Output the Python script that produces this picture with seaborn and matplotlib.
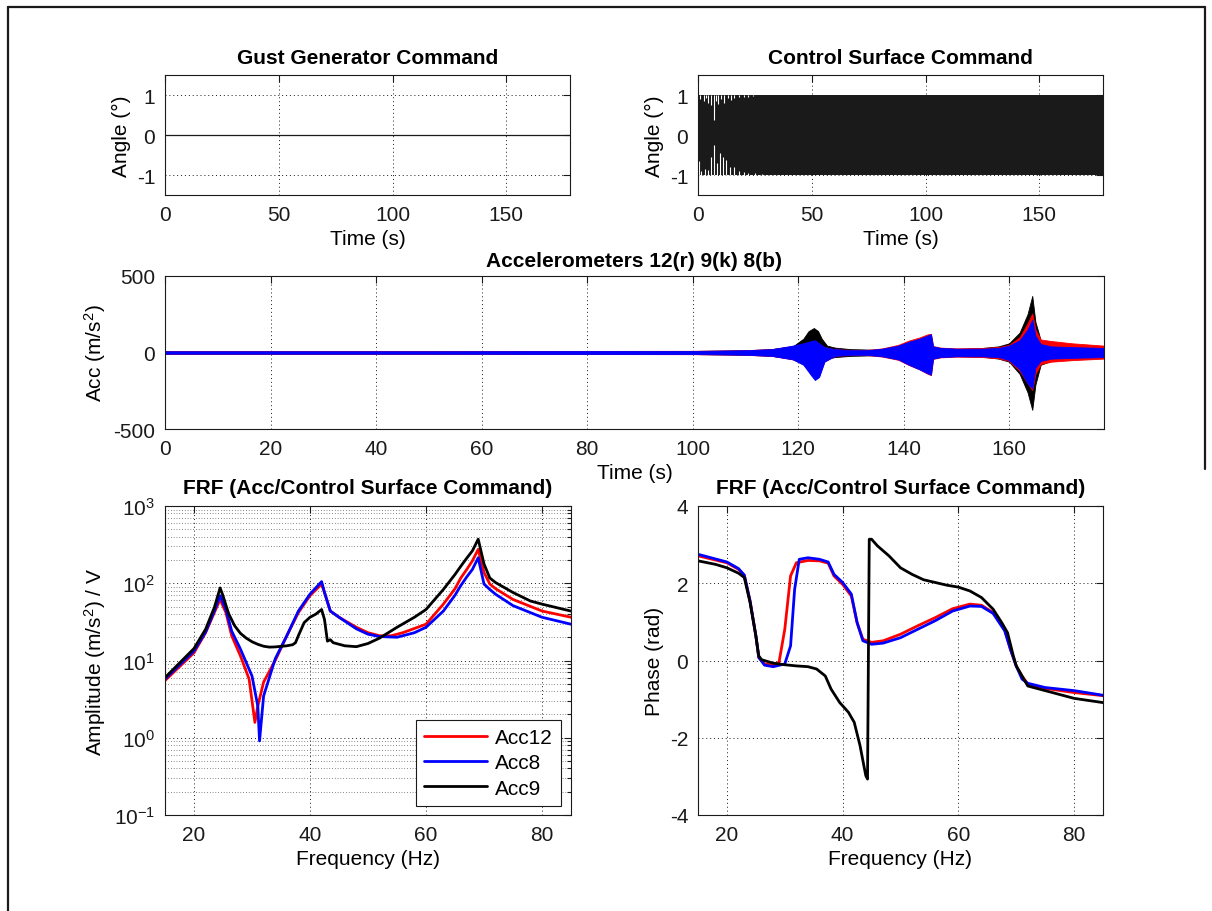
import numpy as np
import pandas as pd
import matplotlib
matplotlib.use("Agg")
import matplotlib.pyplot as plt
from matplotlib.lines import Line2D
from matplotlib.ticker import LogLocator, NullFormatter
import seaborn as sns

# ---------------- data ----------------
# Gust generator command (deg): stays at zero during the whole run
gust_t = [0.0, 178.0]
gust_cmd = [0.0, 0.0]

# Control surface command (deg): +/-1 deg excitation, envelope
cs_t = [0.0, 178.0]
cs_hi = [1.0, 1.0]
cs_lo = [-1.0, -1.0]
# early cycles whose peaks do not reach full amplitude
cs_short_t_top = [1.0, 2.5, 3.5, 4.5, 5.5, 6.9, 8.0, 9.0, 10.0, 11.5, 13.0, 14.5, 16.0, 18.0, 20.0, 22.0, 24.0]
cs_short_top = [0.90, 0.85, 0.92, 0.80, 0.75, 0.38, 0.85, 0.78, 0.90, 0.80, 0.92, 0.88, 0.93, 0.95, 0.95, 0.96, 0.97]
cs_short_t_bot = [0.5, 1.5, 3.0, 4.5, 5.5, 7.0, 8.5, 9.5, 11.0, 12.5, 14.0, 16.0, 18.0, 20.0, 22.0, 25.0, 28.0]
cs_short_bot = [-0.65, -0.90, -0.85, -0.88, -0.55, -0.25, -0.70, -0.45, -0.55, -0.62, -0.80, -0.80, -0.90, -0.93, -0.95, -0.96, -0.97]

# Accelerometer response envelopes (m/s^2)
acc9_t = [0, 50, 100, 110, 115, 119, 121, 122, 123, 123.8, 124.5, 125.5, 127, 130, 135, 140, 145, 147,
          150, 155, 158, 160, 162, 163.5, 164.4, 165, 166, 168, 172, 178]
acc9_hi = [8, 8, 10, 14, 22, 40, 90, 140, 160, 140, 90, 45, 32, 22, 18, 25, 35, 28,
           22, 30, 40, 60, 130, 250, 370, 200, 80, 50, 40, 30]
acc9_lo = [-8, -8, -10, -14, -22, -40, -60, -80, -100, -90, -60, -40, -30, -22, -18, -25, -35, -28,
           -22, -28, -40, -60, -140, -260, -375, -210, -80, -55, -45, -35]

acc_t = [0, 50, 100, 110, 115, 119, 121, 122.5, 123.2, 124, 125, 127, 130, 133, 136, 139, 141, 143,
         144.5, 145.2, 145.6, 147, 150, 155, 158, 160, 162, 163.5, 164.4, 165, 166, 168, 172, 178]
acc12_hi = [9, 9, 11, 15, 22, 42, 58, 70, 75, 58, 35, 22, 16, 16, 27, 50, 78, 98,
            118, 122, 42, 32, 27, 30, 35, 50, 100, 190, 255, 150, 85, 75, 60, 45]
acc12_lo = [-9, -9, -11, -15, -22, -45, -75, -140, -170, -150, -58, -22, -16, -16, -27, -48, -82, -110,
            -138, -148, -42, -32, -27, -30, -38, -55, -120, -200, -245, -140, -75, -60, -50, -40]
acc8_hi = [8, 8, 10, 15, 22, 45, 60, 75, 80, 60, 35, 22, 15, 15, 25, 45, 70, 90,
           110, 120, 40, 30, 25, 25, 30, 45, 80, 150, 215, 110, 55, 40, 35, 30]
acc8_lo = [-8, -8, -10, -15, -22, -45, -80, -150, -180, -160, -60, -22, -15, -15, -25, -45, -80, -110,
           -135, -145, -40, -30, -25, -25, -30, -50, -110, -200, -235, -100, -55, -40, -35, -30]

# FRF amplitude ((m/s^2)/V)
f12_amp = [15, 20, 22, 23.5, 24.5, 25.5, 26.5, 28, 29.5, 30.5, 31, 32, 34, 36, 38, 40, 42, 42.5, 43.5,
           45, 48, 50, 52, 54, 56, 60, 63, 65, 66, 67, 68, 69, 70, 71, 72, 75, 80, 85]
acc12_amp = [5.5, 12.6, 22.9, 41.7, 61.7, 41.7, 20.9, 11.5, 5.75, 1.58, 2.57, 5.25, 10.0, 20.9, 41.7,
             69.2, 97.7, 75.9, 43.7, 36.3, 26.9, 22.9, 20.9, 20.9, 22.9, 29.5, 53.7, 85, 117, 150,
             195, 275, 138, 97.7, 85, 61.7, 43.7, 36.3]
f8_amp = [15, 20, 22, 23.5, 24.5, 25.5, 26.5, 28, 30, 31, 31.3, 32, 34, 36, 38, 40, 42, 42.5, 43.5,
          45, 48, 50, 52, 55, 58, 60, 63, 65, 66, 67, 68, 69, 70, 71, 72, 75, 80, 85]
acc8_amp = [5.75, 13.3, 23.4, 43.7, 69.2, 45.7, 24.0, 14.1, 6.3, 2.57, 0.91, 3.47, 10.5, 20.9, 43.7,
            72.4, 105, 75.9, 43.7, 36.3, 25.7, 21.9, 20.4, 20.0, 22.9, 26.9, 43.7, 70, 93.3, 120,
            151, 214, 97.7, 83.2, 72, 51.3, 36.3, 29.5]
f9_amp = [15, 17, 20, 22, 23.5, 24.5, 25, 25.5, 26, 27, 28, 29, 30, 31, 32, 33, 34, 36, 37, 37.5, 38,
          39, 40, 41, 42, 42.5, 43, 43.5, 44, 46, 48, 50, 52, 55, 58, 60, 63, 65, 66, 67, 68, 69, 70,
          71, 72, 75, 78, 80, 85]
acc9_amp = [6.0, 8.5, 14.3, 25.4, 48.4, 87, 69, 52, 40, 28.2, 22.5, 19.5, 17.5, 16.2, 15.3, 14.9, 15.0,
            15.5, 16.0, 17.0, 21.0, 31.0, 36.3, 39.8, 45.7, 33.9, 17.8, 18.6, 17.0, 15.5, 15.1, 16.6,
            19.5, 26.9, 36.3, 45.7, 83.2, 130, 166, 210, 263, 372, 178, 117, 102, 75.9, 58.9, 53.7,
            43.6]

# FRF phase (rad)
f12_ph = [15, 20, 22, 23, 24, 25, 25.5, 26.5, 28, 29, 30, 31, 32, 34, 36, 37.5, 38.5, 40, 41.5, 42.5,
          43.5, 45, 47, 50, 53, 56, 59, 62, 64, 66, 68, 69, 70, 71, 72, 75, 80, 85]
acc12_ph = [2.71, 2.53, 2.36, 2.21, 1.54, 0.64, 0.08, -0.09, -0.12, -0.05, 0.81, 2.19, 2.53, 2.59, 2.58,
            2.52, 2.19, 1.97, 1.67, 0.98, 0.55, 0.47, 0.51, 0.68, 0.90, 1.11, 1.34, 1.46, 1.43, 1.24,
            0.81, 0.29, -0.14, -0.40, -0.61, -0.72, -0.83, -0.91]
f8_ph = [15, 20, 22, 23, 24, 25, 25.5, 26.5, 28, 30, 31, 31.7, 32.5, 34, 36, 37.5, 38.5, 40, 41.5, 42.5,
         43.5, 45, 47, 50, 53, 56, 59, 62, 64, 66, 68, 69, 70, 71, 72, 75, 80, 85]
acc8_ph = [2.75, 2.55, 2.38, 2.21, 1.54, 0.64, 0.08, -0.12, -0.16, -0.09, 0.38, 1.84, 2.62, 2.66, 2.62,
           2.55, 2.23, 2.02, 1.72, 0.98, 0.51, 0.42, 0.45, 0.59, 0.81, 1.03, 1.28, 1.41, 1.40, 1.22,
           0.77, 0.29, -0.14, -0.48, -0.59, -0.70, -0.78, -0.90]
f9_ph = [15, 18, 20, 22, 23, 24, 25, 25.5, 26, 28, 30, 32, 34, 35.5, 37, 38, 39.5, 41, 42, 43, 44, 44.3,
         44.6, 45, 46, 48, 50, 52, 54, 56, 58, 60, 62, 64, 66, 67.5, 68.5, 69.5, 70, 71, 72, 75, 80, 85]
acc9_ph = [2.58, 2.49, 2.40, 2.26, 2.15, 1.50, 0.64, 0.12, 0.02, -0.07, -0.11, -0.14, -0.16, -0.22,
           -0.40, -0.74, -1.09, -1.34, -1.60, -2.20, -2.98, -3.07, 3.14, 3.14, 2.97, 2.71, 2.40, 2.23,
           2.09, 2.02, 1.95, 1.90, 1.80, 1.63, 1.33, 0.98, 0.72, 0.12, -0.14, -0.40, -0.66, -0.78,
           -0.98, -1.09]

RED, BLUE, BLACK = "#ff0000", "#0000ff", "#000000"

# ---------------- style ----------------
sns.set_theme(style="white")
plt.rcParams["font.family"] = ["Liberation Sans", "DejaVu Sans"]
plt.rcParams["mathtext.fontset"] = "custom"
plt.rcParams["mathtext.rm"] = "Liberation Sans"
plt.rcParams["mathtext.it"] = "Liberation Sans:italic"
plt.rcParams["mathtext.bf"] = "Liberation Sans:bold"
plt.rcParams["axes.unicode_minus"] = False
for key in ("text.color", "axes.labelcolor", "xtick.color", "ytick.color", "axes.edgecolor"):
    plt.rcParams[key] = "black"

FS = 15
W, H = 1212, 912
GRID_LS = (0, (1, 3))


def box(l, t, r, b):
    return [l / W, 1 - b / H, (r - l) / W, (b - t) / H]


def matlab_axes(ax):
    ax.set_facecolor("white")
    ax.set_axisbelow(True)
    for s in ax.spines.values():
        s.set_visible(True)
        s.set_color("k")
        s.set_linewidth(0.8)
    ax.tick_params(which="both", direction="in", top=True, right=True,
                   length=5, width=0.8, colors="k", labelcolor="k", labelsize=FS, pad=7)
    ax.tick_params(which="minor", length=3)
    ax.grid(True, which="major", linestyle=GRID_LS, color="k", linewidth=0.7)


fig = plt.figure(figsize=(W / 100, H / 100), dpi=100)
fig.patch.set_facecolor("white")

# --- Gust generator command ---
ax1 = fig.add_axes(box(165, 76, 570, 196))
matlab_axes(ax1)
sns.lineplot(x=gust_t, y=gust_cmd, ax=ax1, color="k", lw=0.9)
ax1.set_xlim(0, 178)
ax1.set_ylim(-1.5, 1.5)
ax1.set_xticks([0, 50, 100, 150])
ax1.set_yticks([-1, 0, 1])
ax1.set_title("Gust Generator Command", fontsize=FS, fontweight="bold", pad=9)
ax1.set_xlabel("Time (s)", fontsize=FS)
ax1.set_ylabel("Angle (°)", fontsize=FS)

# --- Control surface command ---
ax2 = fig.add_axes(box(698, 76, 1103, 196))
matlab_axes(ax2)
ax2.fill_between(cs_t, cs_lo, cs_hi, color="k", lw=0)
ax2.vlines(cs_short_t_top, cs_short_top, 1.0, color="white", lw=0.8)
ax2.vlines(cs_short_t_bot, -1.0, cs_short_bot, color="white", lw=0.8)
ax2.set_xlim(0, 178)
ax2.set_ylim(-1.5, 1.5)
ax2.set_xticks([0, 50, 100, 150])
ax2.set_yticks([-1, 0, 1])
ax2.set_title("Control Surface Command", fontsize=FS, fontweight="bold", pad=9)
ax2.set_xlabel("Time (s)", fontsize=FS)
ax2.set_ylabel("Angle (°)", fontsize=FS)

# --- Accelerometer time histories ---
ax3 = fig.add_axes(box(165, 277, 1104, 430))
matlab_axes(ax3)
ax3.fill_between(acc9_t, acc9_lo, acc9_hi, color=BLACK, lw=0.6)
ax3.fill_between(acc_t, acc12_lo, acc12_hi, color=RED, lw=0.6)
ax3.fill_between(acc_t, acc8_lo, acc8_hi, color=BLUE, lw=0.6)
ax3.set_xlim(0, 178)
ax3.set_ylim(-500, 500)
ax3.set_xticks(np.arange(0, 161, 20))
ax3.set_yticks([-500, 0, 500])
ax3.set_title("Accelerometers 12(r) 9(k) 8(b)", fontsize=FS, fontweight="bold", pad=7)
ax3.set_xlabel("Time (s)", fontsize=FS)
ax3.set_ylabel("Acc (m/s$^2$)", fontsize=FS)

# --- FRF amplitude ---
ax4 = fig.add_axes(box(165, 507, 571, 816))
matlab_axes(ax4)
ax4.set_yscale("log")
sns.lineplot(x=f12_amp, y=acc12_amp, ax=ax4, color=RED, lw=2.0, label="Acc12")
sns.lineplot(x=f8_amp, y=acc8_amp, ax=ax4, color=BLUE, lw=2.0, label="Acc8")
sns.lineplot(x=f9_amp, y=acc9_amp, ax=ax4, color=BLACK, lw=2.0, label="Acc9")
ax4.set_xlim(15, 85)
ax4.set_ylim(0.1, 1000)
ax4.set_xticks([20, 40, 60, 80])
ax4.yaxis.set_major_locator(LogLocator(base=10, numticks=10))
ax4.yaxis.set_minor_locator(LogLocator(base=10, subs=np.arange(2, 10), numticks=50))
ax4.yaxis.set_minor_formatter(NullFormatter())
ax4.grid(True, which="minor", axis="y", linestyle=GRID_LS, color="k", linewidth=0.5)
ax4.set_title("FRF (Acc/Control Surface Command)", fontsize=FS, fontweight="bold", pad=9)
ax4.set_xlabel("Frequency (Hz)", fontsize=FS)
ax4.set_ylabel("Amplitude (m/s$^2$) / V", fontsize=FS)
leg = ax4.legend(loc="lower right", bbox_to_anchor=((561 - 165) / 406, (816 - 807) / 309),
                 borderaxespad=0, fontsize=FS, frameon=True, fancybox=False,
                 edgecolor="k", framealpha=1, handlelength=3.0, handletextpad=0.4,
                 labelspacing=0.3, borderpad=0.4)
leg.get_frame().set_linewidth(0.8)

# --- FRF phase ---
ax5 = fig.add_axes(box(698, 507, 1103, 816))
matlab_axes(ax5)
sns.lineplot(x=f12_ph, y=acc12_ph, ax=ax5, color=RED, lw=2.0)
sns.lineplot(x=f8_ph, y=acc8_ph, ax=ax5, color=BLUE, lw=2.0)
sns.lineplot(x=f9_ph, y=acc9_ph, ax=ax5, color=BLACK, lw=2.0)
ax5.set_xlim(15, 85)
ax5.set_ylim(-4, 4)
ax5.set_xticks([20, 40, 60, 80])
ax5.set_yticks([-4, -2, 0, 2, 4])
ax5.set_title("FRF (Acc/Control Surface Command)", fontsize=FS, fontweight="bold", pad=9)
ax5.set_xlabel("Frequency (Hz)", fontsize=FS)
ax5.set_ylabel("Phase (rad)", fontsize=FS)

# window frame around the figure
for xs, ys in (([8, 8], [8, H]), ([8, 1205], [8, 8]), ([1205, 1205], [8, 470])):
    fig.add_artist(Line2D([x / W for x in xs], [1 - y / H for y in ys],
                         transform=fig.transFigure, color="k", lw=1.6))

fig.savefig("out.png", dpi=100, facecolor="white")
